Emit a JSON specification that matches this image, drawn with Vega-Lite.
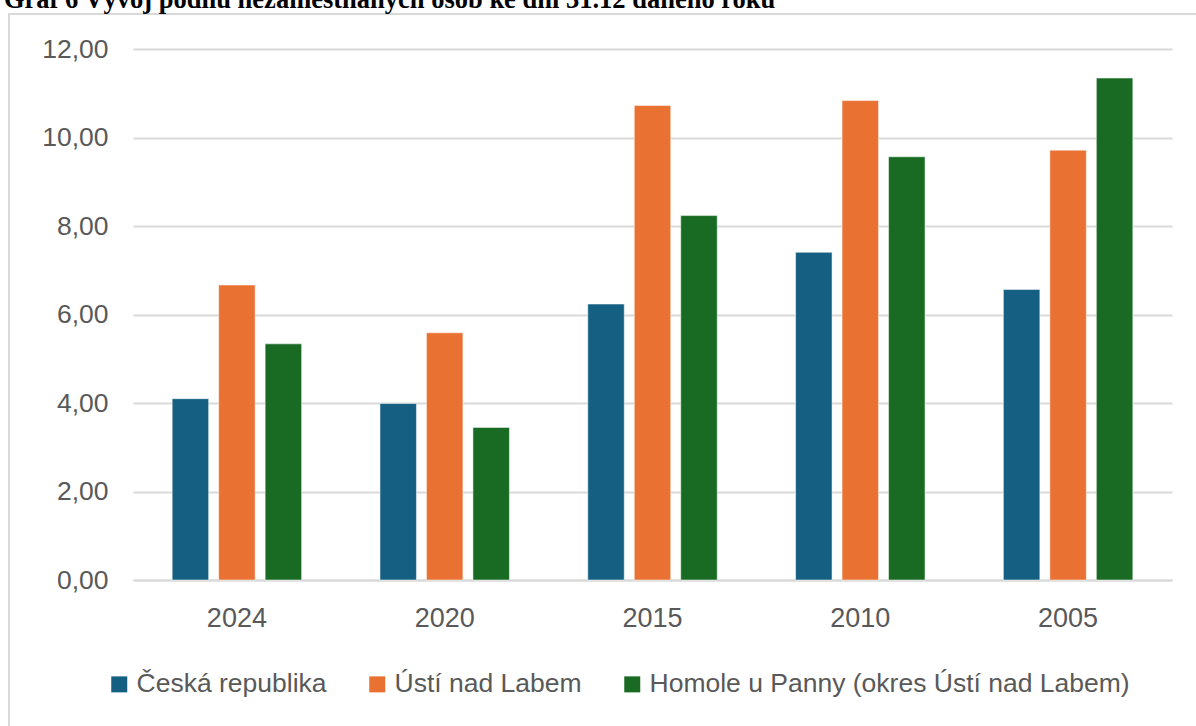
{
  "$schema": "https://vega.github.io/schema/vega-lite/v6.json",
  "width": 1200,
  "height": 720,
  "autosize": {"type": "none"},
  "padding": {"left": 9, "top": 14, "right": -13, "bottom": -8},
  "background": "white",
  "title": {
    "text": "Graf 6 Vývoj podílu nezaměstnaných osob ke dni 31.12 daného roku",
    "anchor": "start",
    "frame": "group",
    "font": "Liberation Serif",
    "fontSize": 26.5,
    "fontWeight": "bold",
    "color": "#000000",
    "baseline": "alphabetic",
    "offset": 0,
    "dx": -5,
    "dy": 20
  },
  "config": {
    "view": {"stroke": "#d9d9d9", "strokeWidth": 2},
    "font": "Liberation Sans"
  },
  "data": {
    "values": [
      {"year": "2024", "region": "Česká republika", "value": 4.10},
      {"year": "2024", "region": "Ústí nad Labem", "value": 6.67},
      {"year": "2024", "region": "Homole u Panny (okres Ústí nad Labem)", "value": 5.34},
      {"year": "2020", "region": "Česká republika", "value": 3.99},
      {"year": "2020", "region": "Ústí nad Labem", "value": 5.59},
      {"year": "2020", "region": "Homole u Panny (okres Ústí nad Labem)", "value": 3.45},
      {"year": "2015", "region": "Česká republika", "value": 6.24},
      {"year": "2015", "region": "Ústí nad Labem", "value": 10.73},
      {"year": "2015", "region": "Homole u Panny (okres Ústí nad Labem)", "value": 8.24},
      {"year": "2010", "region": "Česká republika", "value": 7.41},
      {"year": "2010", "region": "Ústí nad Labem", "value": 10.84},
      {"year": "2010", "region": "Homole u Panny (okres Ústí nad Labem)", "value": 9.57},
      {"year": "2005", "region": "Česká republika", "value": 6.57},
      {"year": "2005", "region": "Ústí nad Labem", "value": 9.72},
      {"year": "2005", "region": "Homole u Panny (okres Ústí nad Labem)", "value": 11.35}
    ]
  },
  "mark": {"type": "bar", "stroke": "#ffffff", "strokeWidth": 1, "strokeOpacity": 0.5},
  "encoding": {
    "x": {
      "field": "year",
      "type": "nominal",
      "sort": ["2024", "2020", "2015", "2010", "2005"],
      "scale": {"range": [124, 1163], "paddingInner": 0.377, "paddingOuter": 0.1885},
      "axis": {
        "title": null,
        "orient": "bottom",
        "offset": -154,
        "domain": true,
        "domainColor": "#d9d9d9",
        "domainWidth": 2,
        "ticks": false,
        "tickSize": 0,
        "labelPadding": 25,
        "labelAngle": 0,
        "labelFont": "Liberation Sans",
        "labelFontSize": 27,
        "labelColor": "#595959",
        "grid": false
      }
    },
    "xOffset": {
      "field": "region",
      "type": "nominal",
      "sort": ["Česká republika", "Ústí nad Labem", "Homole u Panny (okres Ústí nad Labem)"],
      "scale": {"paddingInner": 0.215, "paddingOuter": 0}
    },
    "y": {
      "field": "value",
      "type": "quantitative",
      "scale": {"domain": [0, 12], "range": [566, 35.3], "nice": false, "zero": true},
      "axis": {
        "title": null,
        "values": [0, 2, 4, 6, 8, 10, 12],
        "labelExpr": "replace(format(datum.value, '.2f'), '.', ',')",
        "offset": -97,
        "domain": false,
        "ticks": false,
        "tickSize": 0,
        "labelPadding": -2,
        "labelFont": "Liberation Sans",
        "labelFontSize": 26.5,
        "labelColor": "#595959",
        "grid": true,
        "gridColor": "#d9d9d9",
        "gridWidth": 2
      }
    },
    "color": {
      "field": "region",
      "type": "nominal",
      "sort": ["Česká republika", "Ústí nad Labem", "Homole u Panny (okres Ústí nad Labem)"],
      "scale": {
        "domain": ["Česká republika", "Ústí nad Labem", "Homole u Panny (okres Ústí nad Labem)"],
        "range": ["#156082", "#E97132", "#196B24"]
      },
      "legend": {
        "orient": "none",
        "legendX": 97,
        "legendY": 657,
        "direction": "horizontal",
        "title": null,
        "symbolType": "square",
        "symbolSize": 256,
        "symbolStrokeWidth": 0,
        "labelFont": "Liberation Sans",
        "labelFontSize": 26.5,
        "labelColor": "#595959",
        "labelLimit": 1000,
        "labelOffset": 4,
        "columnPadding": 37,
        "padding": 0
      }
    }
  }
}
